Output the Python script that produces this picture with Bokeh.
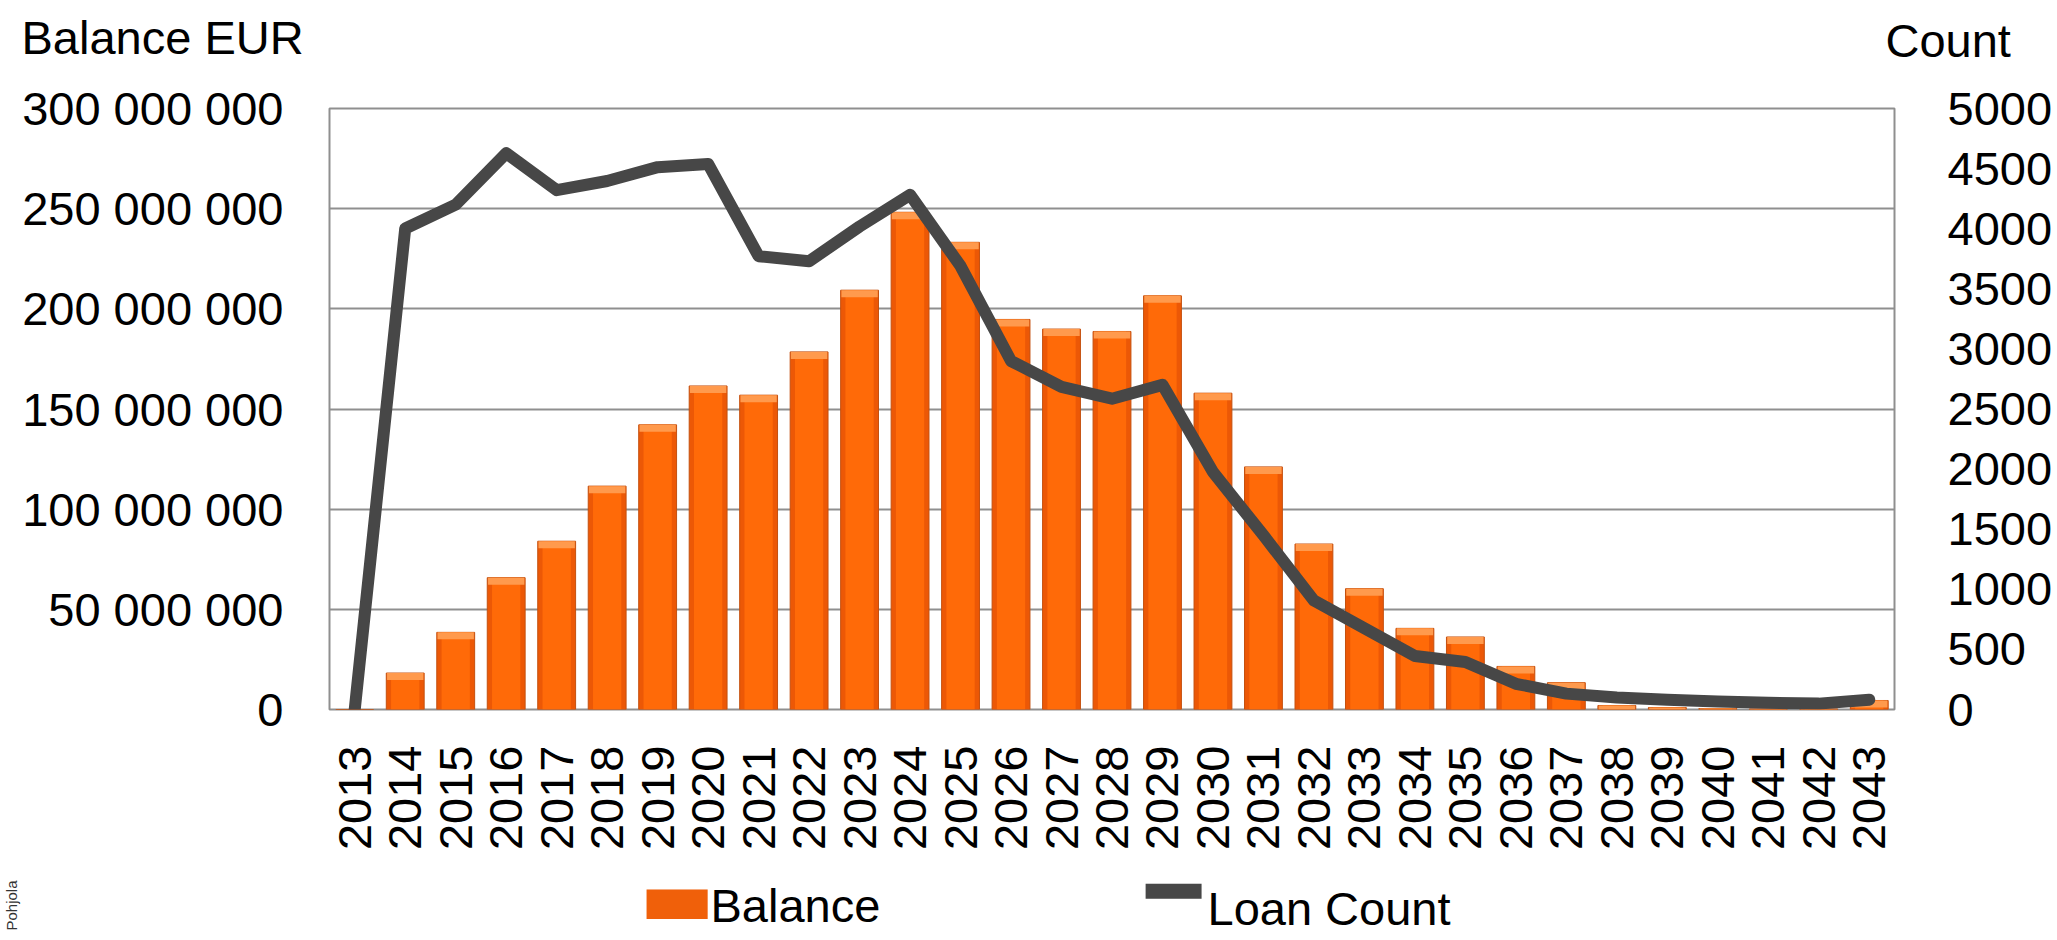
import numpy as np
from math import pi
from bokeh.plotting import figure
from bokeh.models import (FactorRange, Range1d, LinearAxis, FixedTicker,
                          CustomJSTickFormatter, Title)
from bokeh.embed import file_html
from bokeh.resources import INLINE

# ---------------- data ----------------
years = [str(y) for y in range(2013, 2044)]
balance = [0, 18_200_000, 38_500_000, 65_800_000, 84_000_000, 111_500_000,
           142_100_000, 161_500_000, 156_900_000, 178_500_000, 209_300_000,
           248_200_000, 233_200_000, 194_700_000, 189_900_000, 188_700_000,
           206_500_000, 157_900_000, 121_100_000, 82_600_000, 60_300_000,
           40_500_000, 36_200_000, 21_500_000, 13_400_000, 2_000_000,
           1_000_000, 500_000, 300_000, 300_000, 4_500_000]
loan_count = [0, 4002, 4200, 4628, 4321, 4397, 4512, 4539, 3771, 3729, 4018,
              4282, 3689, 2899, 2684, 2586, 2701, 1976, 1449, 906, 675, 445,
              395, 214, 132, 99, 82, 66, 56, 49, 82]
balance_ticks = [0, 50_000_000, 100_000_000, 150_000_000, 200_000_000,
                 250_000_000, 300_000_000]
count_ticks = [0, 500, 1000, 1500, 2000, 2500, 3000, 3500, 4000, 4500, 5000]
axis_titles = ["Balance EUR", "Count"]
series_names = ["Balance", "Loan Count"]
series_colors = ["#F0600A", "#474747"]
source_note = "Pohjola"

FONT = "Liberation Sans"
FSN = 47
FS = f"{FSN}px"
W, H = 2057, 940
FRAME_H = 601

p = figure(x_range=FactorRange(*years, range_padding=0),
           y_range=Range1d(0, 300_000_000),
           width=W, height=H, output_backend="svg", toolbar_location=None,
           min_border_left=327, min_border_right=163, min_border_top=108,
           min_border_bottom=231,
           background_fill_color="white", border_fill_color="white")
p.title.text_font_size = "0px"
p.title.standoff = 0
p.extra_y_ranges = {"count": Range1d(0, 5000)}

p.outline_line_color = "#8F8F8F"
p.outline_line_width = 2
p.xgrid.grid_line_color = None
p.ygrid.grid_line_color = "#8F8F8F"
p.ygrid.grid_line_width = 2

ly = p.yaxis[0]
ly.ticker = FixedTicker(ticks=balance_ticks)
ly.formatter = CustomJSTickFormatter(
    code='return tick.toFixed(0).replace(/\\B(?=(\\d{3})+(?!\\d))/g, " ");')
ly.major_label_standoff = 46

ry = LinearAxis(y_range_name="count", ticker=FixedTicker(ticks=count_ticks))
ry.major_label_standoff = 53
p.add_layout(ry, "right")

xa = p.xaxis[0]
xa.major_label_orientation = pi / 2
xa.major_label_standoff = 36

for ax in (ly, ry, xa):
    ax.axis_line_color = None
    ax.major_tick_line_color = None
    ax.minor_tick_line_color = None
    ax.major_tick_out = 0
    ax.major_tick_in = 0
    ax.minor_tick_out = 0
    ax.minor_tick_in = 0
    ax.major_label_text_color = "black"
    ax.major_label_text_font = FONT
    ax.major_label_text_font_size = FS

# bars (layered to imitate the bevelled gradient)
bars = p.vbar(x=years, top=balance, width=0.75, fill_color="#EC5806",
              line_color="#C4500F", line_width=1)
p.vbar(x=years, top=balance, width=0.56, fill_color="#FF6A08", line_color=None)
cap = 7 * 300_000_000 / FRAME_H
bal = np.array(balance, dtype=float)
cap_bottom = np.where(bal > 0, np.maximum(bal - cap, 0), 0)
p.vbar(x=years, top=bal, bottom=cap_bottom, width=0.72, fill_color="#FF9A4D",
       line_color=None)

line = p.line(x=years, y=loan_count, y_range_name="count", line_width=12,
              line_color=series_colors[1], line_join="round", line_cap="round")


def spacer(size):
    # an invisible title row used only to reserve `size` pixels
    return Title(text="\u00a0", text_font_size="1px", standoff=size - 3,
                 text_font_style="normal")


def flat_title(text, offset, standoff, font=FONT, size_px=FSN, color="black"):
    # a title whose own row is (almost) zero high, centred on its row boundary
    return Title(text=text, align="left", offset=offset,
                 vertical_align="middle", standoff=standoff,
                 text_font=font, text_font_size=f"{size_px}px",
                 text_font_style="normal", text_color=color)


# axis titles above the plot, on one row
p.add_layout(spacer(67), "above")
p.add_layout(flat_title(axis_titles[1], 1556, -52), "above")
p.add_layout(flat_title(axis_titles[0], -308, -52), "above")

# series key below the year labels
p.add_layout(spacer(35.5), "below")
p.add_layout(flat_title("\u2501", 817, -104.6, font="DejaVu Sans", size_px=90,
                        color=series_colors[1]), "below")
p.add_layout(flat_title("\u25AC", 310, -83, font="DejaVu Sans", size_px=80,
                        color=series_colors[0]), "below")
p.add_layout(flat_title(series_names[0], 381, -52), "below")
p.add_layout(flat_title(series_names[1], 878, -52), "below")

p.add_layout(Title(text=source_note, align="left", offset=-221, standoff=0,
                   vertical_align="bottom", text_font=FONT,
                   text_font_size="15px", text_font_style="normal",
                   text_color="#333333"), "left")

open("out.html", "w").write(file_html(p, INLINE))
